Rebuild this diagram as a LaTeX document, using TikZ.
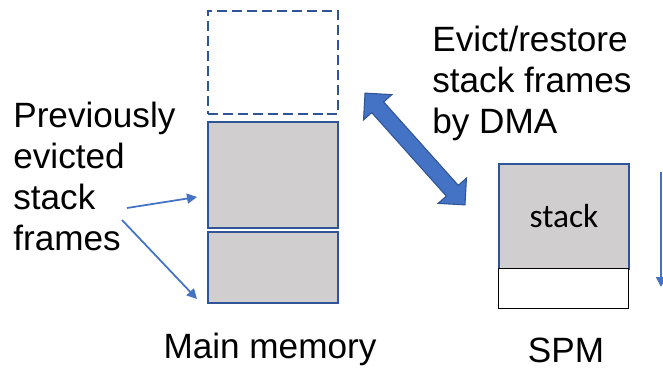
\documentclass[tikz,border=0pt]{standalone}
\usepackage{fontspec}
\setmainfont{Liberation Sans}
\newfontfamily\calibrifont{Carlito}
\usetikzlibrary{shapes.arrows, arrows.meta}
\definecolor{boxBlue}{RGB}{47, 85, 151}
\definecolor{arrowBlue}{RGB}{68, 114, 196}
\definecolor{frameGray}{RGB}{208, 206, 206}

\begin{document}
\begin{tikzpicture}
    [
		x=0.02cm, y=-0.02cm,
		frame/.style={
			draw=boxBlue, line width=1.1pt, fill=frameGray,
			minimum width=2.6cm, inner sep=0, anchor=north west
		},
		label/.style={font=\fontsize{20}{23.3}\selectfont, inner sep=0},
		pointer/.style={-{Triangle[length=0.2cm, width=0.2cm]}, arrowBlue,
			line width=1pt}
	]

\useasboundingbox (0,0) rectangle (663,369);
\clip (0,0) rectangle (663,369);

% Main memory
\node (free) [frame, fill=none, dash pattern=on 5.7pt off 2.8pt,
	minimum height=2.06cm] at (207,10) {};
\node (frameA) [frame, minimum height=2.12cm] at (207,121) {};
\node (frameB) [frame, minimum height=1.42cm] at (207,231) {};
\node (mainlabel) [label, anchor=base] at (270,358) {Main memory};

% Previously evicted frames
\node (evicted) [label, align=left, anchor=base west] at (13,250)
	{Previously\\evicted\\stack\\frames};
\coordinate (fromA) at (127,208);
\coordinate (fromB) at (122,220);
\coordinate (toA) at (197,197);
\coordinate (toB) at (197,299);
\draw [pointer] (fromA) -- (toA);
\draw [pointer] (fromB) -- (toB);

% DMA
\node (dma) [double arrow, fill=arrowBlue, draw=boxBlue, line width=0.6pt,
	minimum height=3cm, inner sep=0.15cm,
	double arrow head extend=0.22cm, rotate=-48.2]
	at (415,149) {};
\node (dmalabel) [label, align=left, anchor=base west] at (432,133)
	{Evict/restore\\stack frames\\by DMA};

% SPM
\node (spmStack) [frame, minimum height=2.1cm] at (498,163) {};
\node (spmFree) [frame, draw=black, line width=0.8pt, fill=white,
	minimum height=0.8cm] at (498,268) {};
\node (stacklabel) [font=\calibrifont\fontsize{19}{22}\selectfont]
	at (spmStack.center) {stack};
\node (spmlabel) [label, anchor=base] at (566,362) {SPM};

% growth
\coordinate (growTop) at (661,172);
\coordinate (growEnd) at (661,287);
\draw [pointer] (growTop) -- (growEnd);

\end{tikzpicture}
\end{document}
